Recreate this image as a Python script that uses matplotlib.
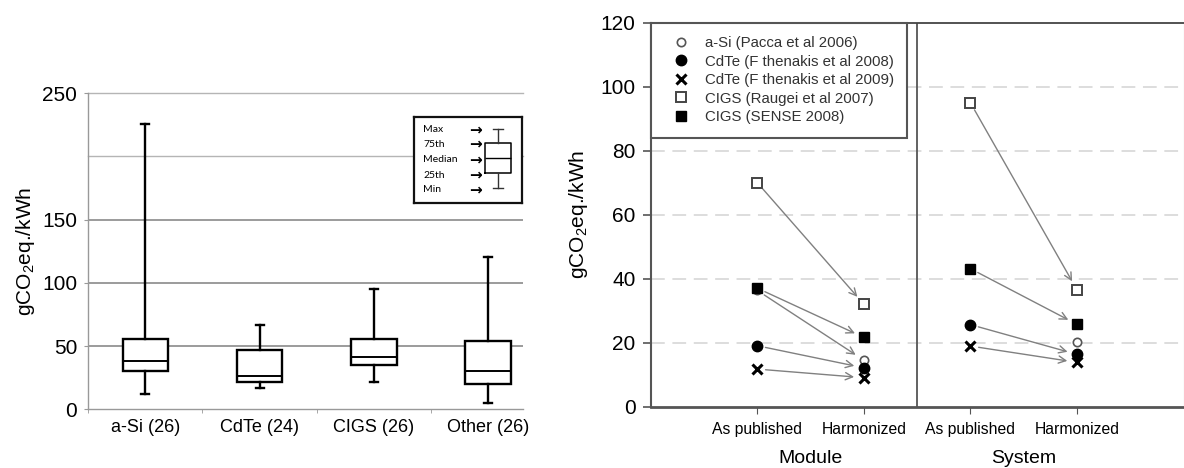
import numpy as np
import matplotlib
matplotlib.use("Agg")
import matplotlib.pyplot as plt

plt.rcParams['font.family'] = ['Liberation Sans', 'DejaVu Sans']
plt.rcParams['mathtext.default'] = 'regular'

# ---- left panel: box plot summary ----
categories = ['a-Si (26)', 'CdTe (24)', 'CIGS (26)', 'Other (26)']
box_min = [11.9, 16.6, 21.4, 5.2]
box_q1 = [30.3, 21.3, 34.8, 20.0]
box_med = [38.2, 26.3, 41.4, 30.5]
box_q3 = [55.4, 46.7, 55.9, 53.8]
box_max = [226.0, 66.7, 94.9, 120.5]
left_yticks = [0, 50, 100, 150, 250]

# ---- right panel: as published vs harmonized ----
stages = ['As published', 'Harmonized', 'As published', 'Harmonized']
groups = ['Module', 'System']
series_names = ['a-Si (Pacca et al 2006)', 'CdTe (F thenakis et al 2008)',
                'CdTe (F thenakis et al 2009)', 'CIGS (Raugei et al 2007)',
                'CIGS (SENSE 2008)']
# values at: module published, module harmonized, system published, system harmonized
asi_pacca = [36.3, 14.5, np.nan, 20.1]
cdte_fth08 = [19.0, 12.1, 25.6, 16.3]
cdte_fth09 = [11.7, 9.0, 18.9, 13.8]
cigs_raugei = [70.0, 32.0, 95.0, 36.5]
cigs_sense = [37.0, 21.6, 43.1, 25.7]
series_values = [asi_pacca, cdte_fth08, cdte_fth09, cigs_raugei, cigs_sense]

marker_styles = [
    dict(marker='o', ms=6, mfc='white', mec='#555555', mew=1.2),
    dict(marker='o', ms=7.5, mfc='black', mec='black', mew=1),
    dict(marker='x', ms=7.5, mfc='black', mec='black', mew=2.2),
    dict(marker='s', ms=7, mfc='white', mec='#444444', mew=1.4),
    dict(marker='s', ms=7.5, mfc='black', mec='black', mew=1),
]

W, H = 1184, 468
fig = plt.figure(figsize=(W / 100, H / 100), dpi=100)

# left axes
ax1 = fig.add_axes([88.3 / W, 1 - 409.3 / H, (523.3 - 88.3) / W, (409.3 - 93.3) / H])
stats = [dict(whislo=a, q1=b, med=c, q3=d, whishi=e, label=l)
         for a, b, c, d, e, l in zip(box_min, box_q1, box_med, box_q3, box_max, categories)]
ax1.bxp(stats, positions=range(len(categories)), widths=0.4, patch_artist=True,
        showfliers=False, capwidths=0.07,
        boxprops=dict(facecolor='white', edgecolor='black', linewidth=1.7),
        medianprops=dict(color='black', linewidth=1.4),
        whiskerprops=dict(color='black', linewidth=1.7),
        capprops=dict(color='black', linewidth=1.7), zorder=3)
for v in [50, 100, 150]:
    ax1.axhline(v, color='#8a8a8a', lw=1.2, zorder=1)
for v in [200, 250]:
    ax1.axhline(v, color='#b5b5b5', lw=1.0, zorder=1, clip_on=False)
ax1.set_xlim(-0.5, 3.31)
ax1.set_ylim(0, 250)
ax1.set_xticks(range(len(categories)), categories, fontsize=13)
ax1.set_xticks([-0.5, 0.5, 1.5, 2.5], minor=True)
ax1.tick_params(axis='x', which='major', length=0, pad=7)
ax1.tick_params(axis='x', which='minor', length=3, color='#999999')
ax1.set_yticks(left_yticks)
ax1.tick_params(axis='y', length=3, color='#999999', pad=5, labelsize=15)
for s in ['top', 'right']:
    ax1.spines[s].set_visible(False)
for s in ['left', 'bottom']:
    ax1.spines[s].set_color('#999999')
    ax1.spines[s].set_linewidth(1.0)
ax1.set_ylabel('gCO$_2$eq./kWh', fontsize=15)
ax1.yaxis.set_label_coords(-0.118, 0.5)

# key inset
axk = fig.add_axes([414 / W, 1 - 203.3 / H, 108 / W, 86.6 / H])
axk.set_xlim(0, 108)
axk.set_ylim(86.6, 0)
axk.set_xticks([])
axk.set_yticks([])
for s in axk.spines.values():
    s.set_linewidth(1.6)
    s.set_color('#111111')
key_labels = ['Max', '75th', 'Median', '25th', 'Min']
key_rows = [13.3, 27.6, 43.3, 58.3, 73.3]
for lab, yy in zip(key_labels, key_rows):
    axk.text(9, yy, lab, fontsize=7.5, va='center', ha='left', family=['Lato', 'DejaVu Sans'])
    axk.text(61, yy, '\u2192', fontsize=11, va='center', ha='center',
             family=['DejaVu Sans'], fontweight='bold')
axk.bxp([dict(whislo=70.8, q1=56.6, med=41.0, q3=26.0, whishi=12.3)], positions=[84],
        widths=26, showfliers=False, capwidths=10, manage_ticks=False,
        boxprops=dict(color='black', linewidth=1.1),
        medianprops=dict(color='black', linewidth=1.0),
        whiskerprops=dict(color='#333333', linewidth=1.0),
        capprops=dict(color='#333333', linewidth=1.0))

# right axes
ax2 = fig.add_axes([650.7 / W, 1 - 406.5 / H, (1183.5 - 650.7) / W, (406.5 - 22.7) / H])
xpos = [1, 2, 3, 4]
ax2.set_xlim(0, 5)
ax2.set_ylim(0, 120)
for v in range(20, 120, 20):
    ax2.axhline(v, color='#d3d3d3', lw=1.1, ls=(0, (9, 5)), zorder=0)
ax2.axvline(2.5, color='#555555', lw=1.3, zorder=1)

for name, vals, st in zip(series_names, series_values, marker_styles):
    ax2.plot(xpos, vals, ls='none', label=name, zorder=4, **st)
    for i0, i1 in [(0, 1), (2, 3)]:
        if np.isnan(vals[i0]) or np.isnan(vals[i1]):
            continue
        ax2.annotate('', xy=(xpos[i1], vals[i1]), xytext=(xpos[i0], vals[i0]),
                     arrowprops=dict(arrowstyle='->', color='#808080', lw=1.0,
                                     shrinkA=6, shrinkB=7, mutation_scale=13),
                     zorder=3)

ax2.set_xticks(xpos, stages, fontsize=11.3)
ax2.tick_params(axis='x', length=5, color='#555555', pad=6)
ax2.set_yticks(range(0, 121, 20))
ax2.tick_params(axis='y', length=6, color='#555555', width=1.2, pad=5, labelsize=15)
for gx, g in zip([1.5, 3.5], groups):
    ax2.text(gx, -0.135, g, transform=ax2.get_xaxis_transform(), ha='center', va='center',
             fontsize=14)
ax2.spines['left'].set_color('#555555')
ax2.spines['left'].set_linewidth(1.5)
ax2.spines['bottom'].set_color('#555555')
ax2.spines['bottom'].set_linewidth(2.0)
ax2.spines['top'].set_color('#444444')
ax2.spines['top'].set_linewidth(1.3)
ax2.spines['right'].set_color('#c0c0c0')
ax2.spines['right'].set_linewidth(0.8)
ax2.set_ylabel('gCO$_2$eq./kWh', fontsize=15)
ax2.yaxis.set_label_coords(-0.114, 0.5)

leg = ax2.legend(loc='upper left', bbox_to_anchor=(0, 0, 0.4805, 1), mode='expand',
                 borderaxespad=0, fancybox=False, framealpha=1, edgecolor='#555555',
                 fontsize=10.8, labelspacing=0.3, borderpad=0.9, handlelength=2.2,
                 handletextpad=0.5, labelcolor='#333333')
leg.get_frame().set_linewidth(1.5)
leg.set_zorder(10)

fig.savefig('out.png', dpi=100)
